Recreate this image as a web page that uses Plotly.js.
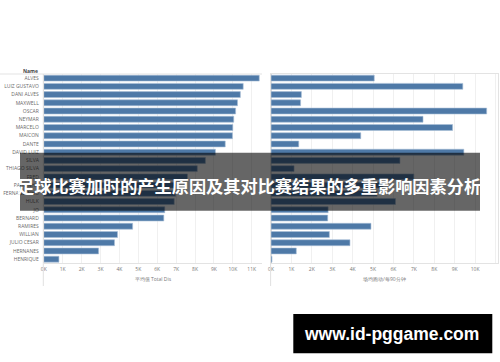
<!DOCTYPE html>
<html>
<head>
<meta charset="utf-8">
<script src="https://cdn.plot.ly/plotly-3.0.1.min.js"></script>
<style>html,body{margin:0;padding:0;background:#fff;}#chart{width:500px;height:362px;}</style>
</head>
<body>
<div id="chart"></div>
<script>
const names = ["ALVES","LUIZ GUSTAVO","DANI ALVES","MAXWELL","OSCAR","NEYMAR","MARCELO","MAICON","DANTE","DAVID LUIZ","SILVA","THIAGO SILVA","FRED","PAULINHO","FERNANDINHO","HULK","JO","BERNARD","RAMIRES","WILLIAN","JULIO CESAR","HERNANES","HENRIQUE"];
// 平均值 Total Distance (thousands)
const totalDist = [11.4,10.55,10.4,10.25,10.15,10.05,10.0,9.98,9.6,9.08,8.55,8.12,7.6,7.0,6.98,6.9,6.4,6.35,4.7,3.9,3.74,2.9,0.8];
// 场均跑动/每90分钟 (thousands)
const per90 = [5.06,9.4,1.49,1.45,10.57,7.45,8.9,4.4,1.36,9.45,6.32,1.13,7.0,5.5,5.2,6.1,2.8,2.78,4.9,2.86,3.87,1.24,0.05];
const tickVals = [0,1,2,3,4,5,6,7,8,9,10,11];
const tickText = ["0K","1K","2K","3K","4K","5K","6K","7K","8K","9K","10K","11K"];
const xTitle1 = "平均值 Total Dis";
const xTitle2 = "场均跑动/每90分钟";
const headline = "足球比赛加时的产生原因及其对比赛结果的多重影响因素分析";
const site = "www.id-pggame.com";

const W = 500, H = 362;
const px = v => v / W, py = v => 1 - v / H;
const barColor = "#4e79a7";
const lineCol = "#a9bfd6";
const baseFont = {family: "Open Sans, Liberation Sans, sans-serif", size: 5, color: "#777"};

const traces = [
  {type: "bar", orientation: "h", y: names, x: totalDist, xaxis: "x", yaxis: "y",
   marker: {color: barColor, line: {color: lineCol, width: 0.6}}, width: 0.72, hoverinfo: "x+y"},
  {type: "bar", orientation: "h", y: names, x: per90, xaxis: "x2", yaxis: "y2",
   marker: {color: barColor, line: {color: lineCol, width: 0.6}}, width: 0.72, hoverinfo: "x+y"}
];

const yCommon = {type: "category", categoryorder: "array", categoryarray: names,
  range: [names.length - 0.5, -0.5], domain: [py(263.3), py(74)], showgrid: false, zeroline: false,
  fixedrange: true};
const xCommon = {tickvals: tickVals, ticktext: tickText, showgrid: true, gridcolor: "#f0f0f0",
  gridwidth: 1, zeroline: true, zerolinecolor: "#d9d9d9", zerolinewidth: 1, showline: true,
  linecolor: "#e3e3e3", linewidth: 1, ticks: "", tickfont: baseFont, ticklabelstandoff: 1};

const layout = {
  width: W, height: H, margin: {l: 0, r: 0, t: 0, b: 0}, paper_bgcolor: "#fff", plot_bgcolor: "#fff",
  showlegend: false, bargap: 0.28,
  font: baseFont,
  xaxis: Object.assign({}, xCommon, {domain: [px(43.8), px(262)], range: [0, 11.545], anchor: "y",
    title: {text: xTitle1, font: baseFont, standoff: 6}}),
  xaxis2: Object.assign({}, xCommon, {domain: [px(271), px(497.7)], range: [0, 11.11], anchor: "y2",
    mirror: true, title: {text: xTitle2, font: baseFont, standoff: 6}}),
  yaxis: Object.assign({}, yCommon, {anchor: "x", showticklabels: true, tickfont: {family: baseFont.family, size: 5, color: "#6a6a6a"},
    ticks: "", ticklabelstandoff: 4, showline: false}),
  yaxis2: Object.assign({}, yCommon, {anchor: "x2", showticklabels: false, showline: true, mirror: true,
    linecolor: "#e3e3e3", linewidth: 1}),
  shapes: [
    {type: "line", xref: "paper", yref: "paper", x0: 0, x1: px(262), y0: py(74), y1: py(74), line: {color: "#e3e3e3", width: 1}},
    {type: "line", xref: "paper", yref: "paper", x0: px(43.3), x1: px(43.3), y0: py(74), y1: py(286), line: {color: "#e0e0e0", width: 1}},
    {type: "line", xref: "paper", yref: "paper", x0: px(270.6), x1: px(270.6), y0: py(74), y1: py(286), line: {color: "#e0e0e0", width: 1}},
    {type: "rect", xref: "paper", yref: "paper", x0: px(20), x1: px(480), y0: py(210.7), y1: py(152.7),
     fillcolor: "rgba(0,0,0,0.6)", line: {width: 0}, layer: "above"},
    {type: "rect", xref: "paper", yref: "paper", x0: px(293.3), x1: px(492.3), y0: py(353.3), y1: py(314),
     fillcolor: "#000", line: {width: 0}, layer: "above"}
  ],
  annotations: [
    {xref: "paper", yref: "paper", x: px(40), y: py(71), xanchor: "right", yanchor: "middle", showarrow: false,
     text: "<b>Name</b>", font: {family: baseFont.family, size: 5, color: "#444"}},
    {xref: "paper", yref: "paper", x: px(249), y: py(185.5), xanchor: "center", yanchor: "middle", showarrow: false,
     text: "<b>" + headline + "</b>", font: {family: "Noto Sans CJK SC, sans-serif", size: 17.2, color: "#fff"}},
    {xref: "paper", yref: "paper", x: px(391), y: py(333.7), xanchor: "center", yanchor: "middle", showarrow: false,
     text: "<b>" + site + "</b>", font: {family: "Liberation Sans, Arial, sans-serif", size: 17.5, color: "#fff"}}
  ]
};

Plotly.newPlot("chart", traces, layout, {displayModeBar: false, staticPlot: true});
</script>
</body>
</html>
